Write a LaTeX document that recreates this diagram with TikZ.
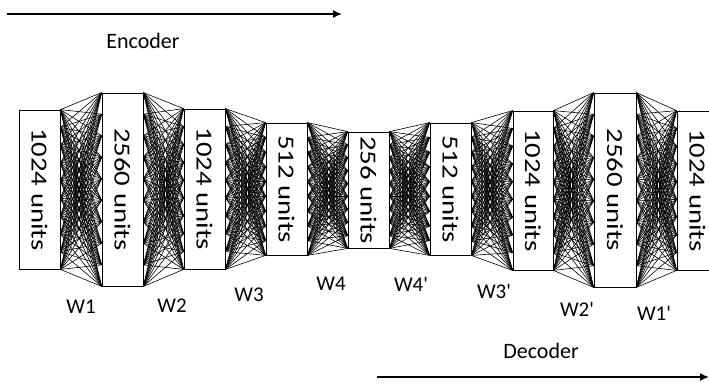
\documentclass[tikz,border=0pt]{standalone}
\usepackage{fontspec}
\setmainfont[Ligatures=TeXOff]{Carlito}
\usetikzlibrary{calc,arrows.meta}
\tikzset{
  layerbox/.style={draw=black, fill=white, line width=0.8pt, inner sep=0pt, minimum width=41pt},
  conn/.style={line width=0.6pt, black},
  wlabel/.style={font=\fontsize{21}{25}\selectfont, inner sep=0pt},
  dirlabel/.style={font=\fontsize{22}{26}\selectfont, inner sep=0pt},
  dirarrow/.style={line width=1.6pt, -{Latex[length=9pt,width=8pt]}}
}
\newcommand{\unitstext}[1]{\rotatebox{-90}{\scalebox{1.25}[1]{\fontsize{23}{27}\selectfont #1}}}
\begin{document}
\begin{tikzpicture}[x=1pt,y=-1pt]
\useasboundingbox (0,0) rectangle (709,383);
\clip (0,0) rectangle (709,383);
% layer boxes (for connector anchors)
\path
  node[layerbox, minimum height=159pt] (b1) at (39.5,189.5) {}
  node[layerbox, minimum height=193pt] (b2) at (122.5,189.5) {}
  node[layerbox, minimum height=160pt] (b3) at (204.5,189) {}
  node[layerbox, minimum height=132pt] (b4) at (286.5,189) {}
  node[layerbox, minimum height=116pt] (b5) at (368.5,190) {}
  node[layerbox, minimum height=132pt] (b6) at (450.5,189) {}
  node[layerbox, minimum height=159pt, minimum width=40pt] (b7) at (533,190.5) {}
  node[layerbox, minimum height=194pt, minimum width=42pt] (b8) at (615,190) {}
  node[layerbox, minimum height=159pt] (b9) at (697.5,190.5) {};
% connectors (fully connected between adjacent layers)
\foreach \a/\b in {b1/b2,b2/b3,b3/b4,b4/b5,b5/b6,b6/b7,b7/b8,b8/b9}{
  \foreach \i in {0,...,9}{
    \foreach \j in {0,...,9}{
      \draw[conn] ($(\a.north east)!\i/9!(\a.south east)$) -- ($(\b.north west)!\j/9!(\b.south west)$);
    }
  }
}
% boxes with text on top
\node[layerbox, minimum height=159pt] at (b1) {\unitstext{1024 units}};
\node[layerbox, minimum height=193pt] at (b2) {\unitstext{2560 units}};
\node[layerbox, minimum height=160pt] at (b3) {\unitstext{1024 units}};
\node[layerbox, minimum height=132pt] at (b4) {\unitstext{512 units}};
\node[layerbox, minimum height=116pt] at (b5) {\unitstext{256 units}};
\node[layerbox, minimum height=132pt] at (b6) {\unitstext{512 units}};
\node[layerbox, minimum height=159pt, minimum width=40pt] at (b7) {\unitstext{1024 units}};
\node[layerbox, minimum height=194pt, minimum width=42pt] at (b8) {\unitstext{2560 units}};
\node[layerbox, minimum height=159pt] at (b9) {\unitstext{1024 units}};
% weight labels
\node[wlabel] (w1) at (81,307) {W1};
\node[wlabel] (w2) at (172,306) {W2};
\node[wlabel] (w3) at (249,295) {W3};
\node[wlabel] (w4) at (331,284) {W4};
\node[wlabel] (w4p) at (411,284) {W4'};
\node[wlabel] (w3p) at (494,291) {W3'};
\node[wlabel] (w2p) at (577,309) {W2'};
\node[wlabel] (w1p) at (654,313) {W1'};
% encoder / decoder
\coordinate (es) at (7,14);
\coordinate (ee) at (342,14);
\draw[dirarrow] (es) -- (ee);
\node[dirlabel] (enc) at (143,41) {Encoder};
\coordinate (ds) at (377,377);
\coordinate (de) at (709,377);
\draw[dirarrow] (ds) -- (de);
\node[dirlabel] (dec) at (541,351) {Decoder};
\end{tikzpicture}
\end{document}
